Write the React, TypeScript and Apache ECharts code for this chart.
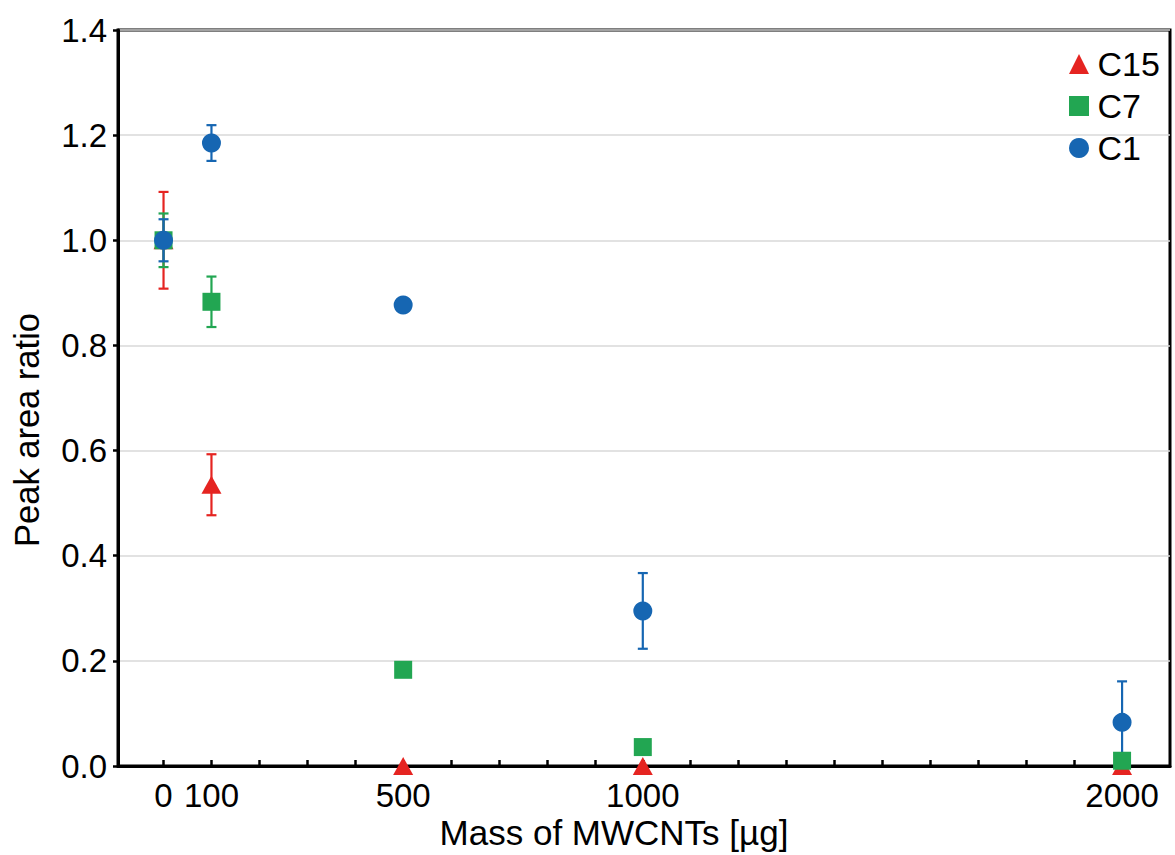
import React, { useEffect, useRef } from 'react';
import * as echarts from 'echarts';

const masses = [0, 100, 500, 1000, 2000];
const seriesNames = ['C15', 'C7', 'C1'];
const c15Values = [1.0, 0.535, 0.0, 0.0, 0.0];
const c15Errors = [0.092, 0.058, 0, 0, 0];
const c7Values = [1.0, 0.883, 0.183, 0.036, 0.01];
const c7Errors = [0.051, 0.048, 0, 0, 0];
const c1Values = [1.0, 1.185, 0.877, 0.295, 0.083];
const c1Errors = [0.04, 0.034, 0, 0.072, 0.078];
const xTickValues = [0, 100, 200, 300, 400, 500, 600, 700, 800, 900, 1000, 1100, 1200, 1300, 1400, 1500, 1600, 1700, 1800, 1900, 2000];
const xLabelValues = [0, 100, 500, 1000, 2000];

const colors = ['#E52421', '#22A652', '#1666B2'];
const symbols = ['triangle', 'rect', 'circle'];
const symbolSizes: any[] = [[20, 18], 18, 19];
const FONT = 'Liberation Sans, Arial, sans-serif';

function buildPoints(values: number[]) {
  return masses.map((m, i) => [m, values[i]]);
}
function buildErrors(values: number[], errs: number[]) {
  return masses.map((m, i) => [m, values[i] - errs[i], values[i] + errs[i]]).filter((d, i) => errs[i] > 0);
}

export default function App() {
  const ref = useRef<HTMLDivElement>(null);
  useEffect(() => {
    if (!ref.current) return;
    const chart = echarts.init(ref.current, null, { renderer: 'svg' });
    const allValues = [c15Values, c7Values, c1Values];
    const allErrors = [c15Errors, c7Errors, c1Errors];
    const series: any[] = [];
    seriesNames.forEach((name, k) => {
      const color = colors[k];
      series.push({
        type: 'custom',
        name: name + ' error',
        data: buildErrors(allValues[k], allErrors[k]),
        clip: false,
        silent: true,
        renderItem: (params: any, api: any) => {
          const x = api.value(0);
          const lo = api.coord([x, api.value(1)]);
          const hi = api.coord([x, api.value(2)]);
          const hw = 5;
          const style = { stroke: color, lineWidth: 2.2 };
          return {
            type: 'group',
            children: [
              { type: 'line', shape: { x1: lo[0], y1: lo[1], x2: hi[0], y2: hi[1] }, style },
              { type: 'line', shape: { x1: lo[0] - hw, y1: lo[1], x2: lo[0] + hw, y2: lo[1] }, style },
              { type: 'line', shape: { x1: hi[0] - hw, y1: hi[1], x2: hi[0] + hw, y2: hi[1] }, style },
            ],
          };
        },
      });
      series.push({
        type: 'scatter',
        name,
        data: buildPoints(allValues[k]),
        symbol: symbols[k],
        symbolSize: symbolSizes[k],
        clip: false,
        itemStyle: { color, opacity: 1 },
      });
    });

    chart.setOption({
      animation: false,
      textStyle: { fontFamily: FONT },
      grid: {
        left: 118, right: 5, top: 30, bottom: 89,
        show: true, borderColor: '#000', borderWidth: 3, backgroundColor: 'transparent',
      },
      legend: {
        orient: 'vertical',
        left: 1064,
        top: 42,
        itemWidth: 20,
        itemHeight: 20,
        itemGap: 8,
        textStyle: { fontSize: 34, color: '#000', fontFamily: FONT, padding: [0, 0, 0, 3.5] },
        data: seriesNames.map((n, k) => ({ name: n, icon: symbols[k], itemStyle: { color: colors[k] } })),
      },
      xAxis: {
        type: 'value',
        min: -95,
        max: 2100,
        axisLine: { show: true, onZero: false, lineStyle: { color: '#000', width: 3 } },
        axisTick: { show: true, inside: true, length: 6, lineStyle: { color: '#000', width: 2.5 }, customValues: xTickValues },
        axisLabel: { fontSize: 33, color: '#000', margin: 13, fontFamily: FONT, customValues: xLabelValues, formatter: (v: number) => String(v) },
        splitLine: { show: false },
      },
      yAxis: {
        type: 'value',
        min: 0,
        max: 1.4,
        interval: 0.2,
        axisLine: { show: true, onZero: false, lineStyle: { color: '#000', width: 3 } },
        axisTick: { show: true, inside: false, length: 5, lineStyle: { color: '#000', width: 2.5 } },
        axisLabel: { fontSize: 33, color: '#000', margin: 11, fontFamily: FONT, formatter: (v: number) => v.toFixed(1) },
        splitLine: { show: true, lineStyle: { color: '#d9d9d9', width: 1.5 } },
      },
      graphic: [
        {
          type: 'text', x: 614, y: 832,
          style: { text: 'Mass of MWCNTs [µg]', fontSize: 35, fill: '#000', fontFamily: FONT, align: 'center', verticalAlign: 'middle' },
        },
        {
          type: 'text', x: 27, y: 430, rotation: Math.PI / 2,
          style: { text: 'Peak area ratio', fontSize: 34.5, fill: '#000', fontFamily: FONT, align: 'center', verticalAlign: 'middle' },
        },
      ],
      series,
    });
    return () => chart.dispose();
  }, []);
  return <div ref={ref} style={{ position: 'fixed', left: 0, top: 0, width: 1175, height: 855, background: '#fff' }} />;
}
